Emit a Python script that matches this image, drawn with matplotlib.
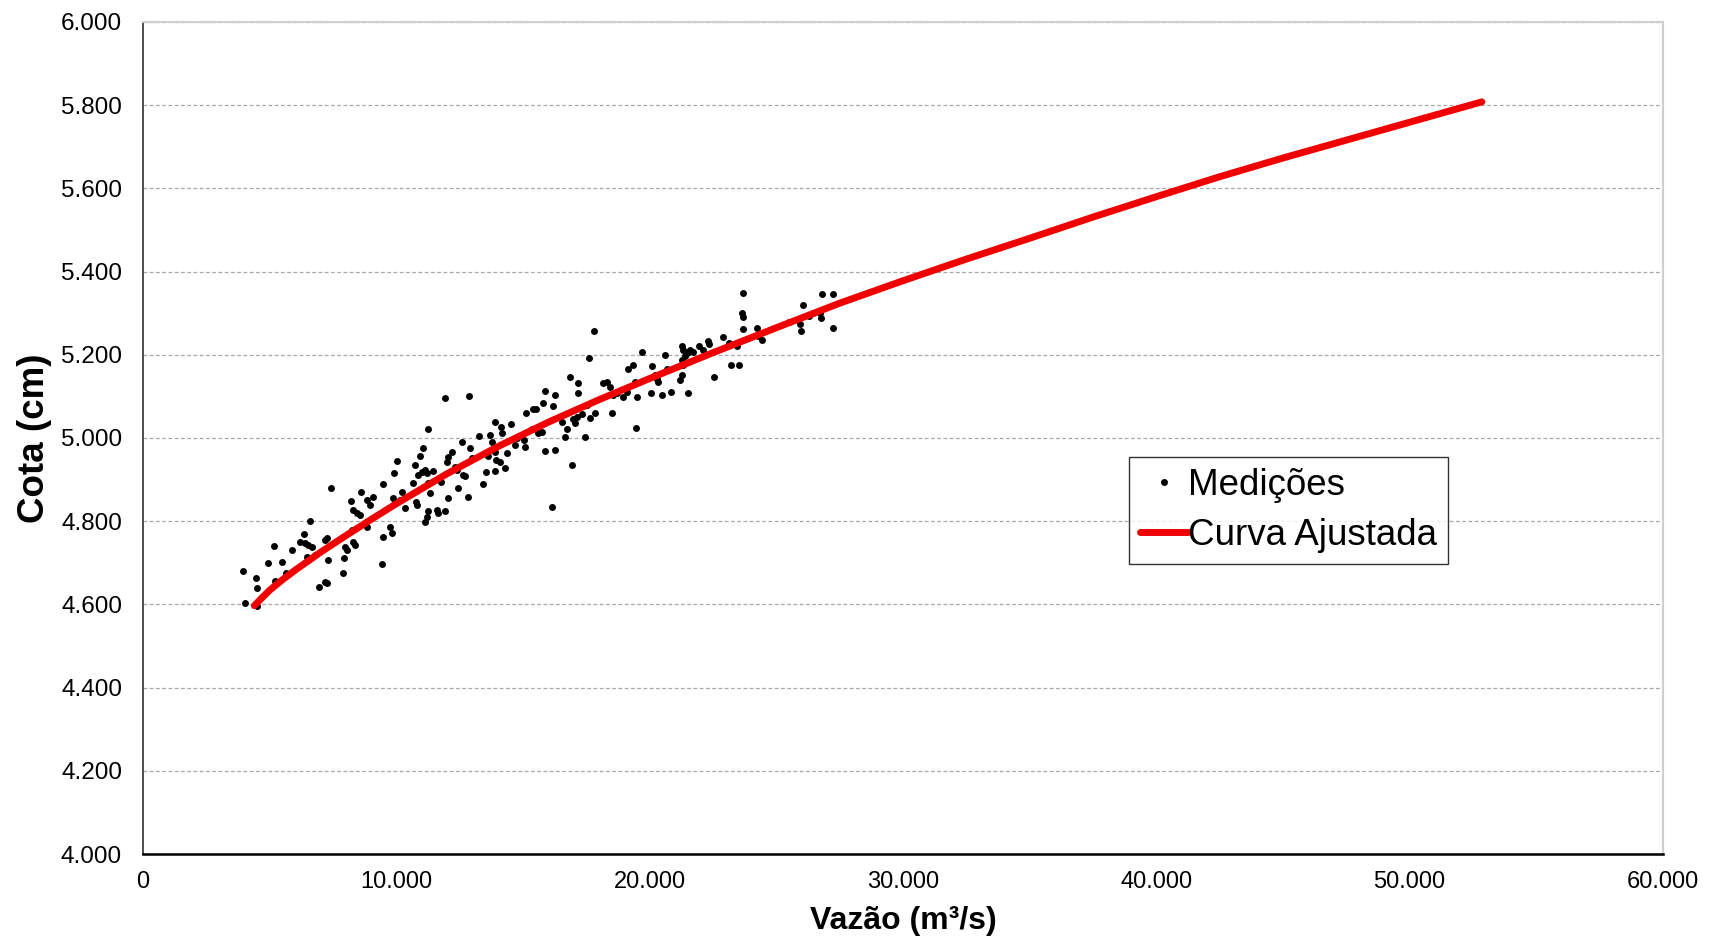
import matplotlib
matplotlib.use("Agg")
import matplotlib.pyplot as plt
from matplotlib.ticker import FuncFormatter, MultipleLocator

plt.rcParams['font.family'] = ['Liberation Sans', 'DejaVu Sans']

# measurements: discharge (m3/s) and stage (cm)
vazao_med = [
    3960, 4026, 4461, 4487, 4513, 4947, 5171, 5224, 5487, 5658,
    11237, 11921, 12882,
    5868, 6355, 6592, 6197, 6395, 6526, 6658, 6461, 6526, 6789,
    6960, 7184, 7250, 7184, 7250, 7316, 7408, 7908, 7934, 7974,
    8039, 8237, 8303, 8368, 8210, 8303, 8434, 8566, 8592, 8829,
    8960, 9092, 8829, 9421, 9460, 9487, 9750, 9816, 9882, 9947,
    10013, 9908, 10210, 10342, 10145, 10671, 10776, 10803, 10737, 10934,
    11039, 10868, 11000, 11131, 11197, 11460, 11263, 11329, 11131, 11197,
    11263, 11592, 11658, 11921, 11750, 12053, 11987, 12053, 12184, 12316,
    12382, 12447, 12579, 12645, 12710, 12842,
    12908, 12974, 13276, 13434, 13539, 13632, 13697, 13763, 13895, 13895,
    13934, 13895, 14092, 14118, 14158, 14289, 14355, 14513, 14684, 14750,
    15039, 15079, 15118, 15342, 15408, 15513, 15605, 15737, 15776, 15868,
    15868, 16132, 16197, 16263, 16263, 16526, 16658, 16724, 16921, 16987,
    17053, 17118, 17184, 17184, 17316, 17447, 17540, 17645, 17842, 18171,
    18303, 18434, 18500, 18566, 18697, 18961, 19092, 19421, 19461, 19513,
    17816, 17605, 16855, 19684, 19355, 19158,
    20079, 20211, 20276, 20342, 20039, 20500, 20605, 20671, 20829, 21197,
    21263, 21263, 21329, 21263, 21303, 21395, 21461, 21526, 21592, 21526,
    21724, 21961, 22118, 22316, 22355, 22553, 22882, 23145, 23197, 23434,
    23539, 23632, 23671, 23697, 23697, 24250, 24289, 24421, 25513, 25934,
    25974, 26066, 26303, 26461, 26724, 26750, 26789, 27224, 27224,
]
cota_med = [
    4680, 4604, 4663, 4640, 4596, 4700, 4740, 4656, 4703, 4675,
    5021, 5097, 5101,
    4731, 4769, 4800, 4751, 4747, 4743, 4739, 4715, 4707, 4719,
    4641, 4655, 4651, 4755, 4759, 4707, 4879, 4676, 4711, 4739,
    4731, 4779, 4751, 4743, 4849, 4827, 4819, 4815, 4869, 4851,
    4839, 4859, 4785, 4696, 4763, 4889, 4785, 4772, 4855, 4843,
    4945, 4917, 4869, 4831, 4851, 4891, 4847, 4839, 4935, 4957,
    4975, 4911, 4919, 4923, 4915, 4921, 4891, 4867, 4799, 4811,
    4825, 4827, 4819, 4825, 4895, 4855, 4943, 4955, 4967, 4931,
    4923, 4879, 4991, 4911, 4909, 4859,
    4975, 4951, 5005, 4889, 4919, 4957, 5007, 4991, 5039, 4967,
    4947, 4921, 4943, 5027, 5011, 4927, 4965, 5034, 4983, 4999,
    4995, 4979, 5061, 5021, 5069, 5070, 5011, 5015, 5085, 5113,
    4969, 4835, 5077, 5103, 4971, 5039, 5002, 5021, 4935, 5045,
    5035, 5050, 5131, 5109, 5058, 5002, 5079, 5047, 5061, 5133,
    5135, 5123, 5061, 5103, 5107, 5098, 5111, 5135, 5025, 5098,
    5256, 5193, 5147, 5206, 5176, 5167,
    5172, 5151, 5143, 5135, 5107, 5103, 5200, 5167, 5110, 5139,
    5151, 5220, 5212, 5187, 5176, 5196, 5204, 5207, 5212, 5107,
    5207, 5220, 5212, 5232, 5225, 5147, 5242, 5229, 5176, 5221,
    5176, 5300, 5292, 5262, 5348, 5264, 5244, 5236, 5280, 5274,
    5258, 5320, 5293, 5301, 5300, 5288, 5345, 5345, 5265,
]

# fitted rating curve
vazao_curva = [4400, 4700, 5000, 5500, 6000, 7000, 8000, 9000, 10000, 12000,
               14000, 16000, 18000, 20000, 22500, 25000, 27500, 30000, 32500,
               35000, 37500, 40000, 42500, 45000, 47500, 50000, 52850]
cota_curva = [4597, 4616, 4634, 4659, 4682, 4725, 4765, 4804, 4842, 4914,
              4979, 5038, 5092, 5143, 5205, 5265, 5324, 5378, 5430,
              5480, 5531, 5580, 5628, 5673, 5716, 5759, 5808]

fig = plt.figure(figsize=(17.1, 9.39), dpi=100)
ax = fig.add_axes([0.0836, 0.0905, 0.8889, 0.8861])

ax.plot(vazao_med, cota_med, 'o', color='black', markersize=5,
        markeredgewidth=0, label='Medições', zorder=3)
ax.plot(vazao_curva, cota_curva, '-', color='#f00000', linewidth=5,
        solid_capstyle='round', solid_joinstyle='round',
        label='Curva Ajustada', zorder=4)

ax.set_xlim(0, 60000)
ax.set_ylim(4000, 6000)
ax.xaxis.set_major_locator(MultipleLocator(10000))
ax.yaxis.set_major_locator(MultipleLocator(200))
fmt = FuncFormatter(lambda v, p: f"{v:,.0f}".replace(",", "."))
ax.xaxis.set_major_formatter(fmt)
ax.yaxis.set_major_formatter(fmt)
ax.tick_params(axis='both', length=0, colors='black')
ax.tick_params(axis='y', pad=15, labelsize=17.5)
ax.tick_params(axis='x', pad=12, labelsize=17)

ax.grid(axis='y', color='#a8a8a8', linestyle=(0, (3, 2)), linewidth=0.9)
ax.set_axisbelow(True)

ax.spines['left'].set_color('#404040')
ax.spines['left'].set_linewidth(1.3)
ax.spines['bottom'].set_color('black')
ax.spines['bottom'].set_linewidth(1.8)
ax.spines['top'].set_color('#cfcfcf')
ax.spines['top'].set_linewidth(1.5)
ax.spines['right'].set_color('#cfcfcf')
ax.spines['right'].set_linewidth(1.5)

ax.set_xlabel('Vazão (m³/s)', fontsize=23, fontweight='bold')
ax.set_ylabel('Cota (cm)', fontsize=26.5, fontweight='bold')
ax.xaxis.set_label_coords(0.5, -0.063)
ax.yaxis.set_label_coords(-0.06, 0.5)

leg = ax.legend(loc='upper left', bbox_to_anchor=(0.6487, 0.477),
                borderaxespad=0, fontsize=26.5, frameon=True, fancybox=False,
                edgecolor='black', handlelength=1.3, handletextpad=0.0,
                labelspacing=0.4, borderpad=0.3, markerscale=1.0)
leg.get_frame().set_linewidth(1.0)

fig.savefig('out.png', dpi=100, facecolor='white')
